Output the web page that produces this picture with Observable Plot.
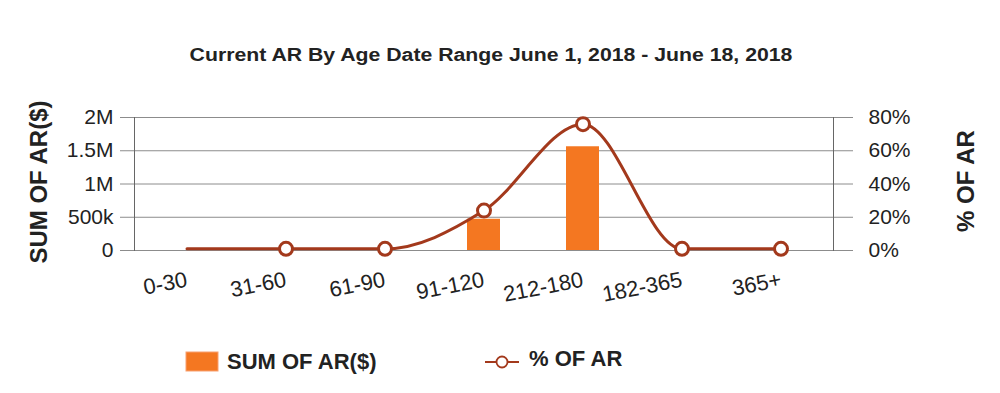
<!DOCTYPE html>
<html>
<head>
<meta charset="utf-8">
<script src="https://cdn.jsdelivr.net/npm/d3@7"></script>
<script src="https://cdn.jsdelivr.net/npm/@observablehq/plot@0.6"></script>
<style>
  body { margin: 0; background: #fff; font-family: "Liberation Sans", Arial, sans-serif; }
  #wrap { position: relative; width: 1000px; height: 393px; overflow: hidden; background: #fff; }
  #title { position: absolute; top: 46px; left: 0; width: 982px; text-align: center; font-weight: bold;
           font-size: 18px; line-height: 18px; color: #222; transform: scaleX(1.18); transform-origin: 491px 0; white-space: nowrap; }
  #chart { position: absolute; top: 90px; left: 0; }
  .ytitle { position: absolute; width: 240px; text-align: center; font-weight: bold; font-size: 24px;
            line-height: 24px; color: #222; transform: rotate(-90deg); white-space: nowrap; }
  .legtext { position: absolute; font-weight: bold; font-size: 22px; line-height: 22px; color: #222; white-space: nowrap; }
</style>
</head>
<body>
<div id="wrap">
  <div id="title"></div>
  <div id="chart"></div>
  <div class="ytitle" id="ltitle" style="left:-81px; top:170px;"></div>
  <div class="ytitle" id="rtitle" style="left:846px; top:169px;"></div>
  <div id="legend"></div>
</div>
<script>
const titleText = "Current AR By Age Date Range June 1, 2018 - June 18, 2018";
const categories = ["0-30", "31-60", "61-90", "91-120", "212-180", "182-365", "365+"];
const sumAR = [0, 0, 0, 470000, 1560000, 0, 0];
const pctAR = [1, 1, 1, 24, 76, 1, 1];
const markedCategories = ["31-60", "61-90", "91-120", "212-180", "182-365", "365+"];
const leftTickValues = [0, 500000, 1000000, 1500000, 2000000];
const leftTickLabels = ["0", "500k", "1M", "1.5M", "2M"];
const rightTickLabels = ["0%", "20%", "40%", "60%", "80%"];
const sumMax = 2000000;
const pctMax = 80;
const seriesNames = ["SUM OF AR($)", "% OF AR"];

const barColor = "#f47721";
const lineColor = "#a3391c";
const gridColor = "#8c8c8c";

const data = categories.map((c, i) => ({
  cat: c, sum: sumAR[i], pct: pctAR[i], pctY: pctAR[i] / pctMax * sumMax
}));

document.getElementById("title").textContent = titleText;
document.getElementById("ltitle").textContent = seriesNames[0];
document.getElementById("rtitle").textContent = seriesNames[1];

const chart = Plot.plot({
  width: 1000,
  height: 230,
  marginTop: 27,
  marginBottom: 70,
  marginLeft: 134,
  marginRight: 167,
  style: { fontFamily: '"Liberation Sans", Arial, sans-serif', color: "#222", background: "transparent", overflow: "visible" },
  x: { type: "band", domain: categories, padding: 0 },
  y: { domain: [0, sumMax] },
  marks: [
    Plot.gridY(leftTickValues, { stroke: gridColor, strokeOpacity: 1 }),
    Plot.axisY(leftTickValues, {
      anchor: "left", tickSize: 14, tickPadding: 7, stroke: gridColor, fontSize: 21, label: null,
      tickFormat: d => leftTickLabels[leftTickValues.indexOf(d)]
    }),
    Plot.axisY(leftTickValues, {
      anchor: "right", tickSize: 19, tickPadding: 16, stroke: gridColor, fontSize: 21, label: null,
      tickFormat: d => rightTickLabels[leftTickValues.indexOf(d)]
    }),
    Plot.axisX({
      tickSize: 0, tickPadding: 29, tickRotate: -11, fontSize: 22, label: null,
      textAnchor: "end", lineAnchor: "middle"
    }),
    Plot.frame({ anchor: "left", stroke: "#666" }),
    Plot.frame({ anchor: "right", stroke: "#666" }),
    Plot.barY(data, { x: "cat", y: "sum", fill: barColor, insetLeft: 33, insetRight: 33 }),
    Plot.line(data, { x: "cat", y: "pctY", curve: "monotone-x", stroke: lineColor, strokeWidth: 3 }),
    Plot.dot(data.filter(d => markedCategories.includes(d.cat)), {
      x: "cat", y: "pctY", r: 6.5, fill: "white", stroke: lineColor, strokeWidth: 3
    })
  ]
});
document.getElementById("chart").appendChild(chart);

// Legend
const legend = d3.select("#legend");
const lsvg = legend.append("svg")
  .style("position", "absolute").style("left", "0px").style("top", "0px")
  .attr("width", 1000).attr("height", 393).style("pointer-events", "none");
lsvg.append("rect").attr("x", 186).attr("y", 352).attr("width", 32).attr("height", 19)
  .attr("fill", barColor).attr("stroke", "#f8a070").attr("stroke-width", 1);
lsvg.append("line").attr("x1", 485).attr("x2", 519).attr("y1", 362).attr("y2", 362)
  .attr("stroke", lineColor).attr("stroke-width", 1.8);
lsvg.append("circle").attr("cx", 502).attr("cy", 362).attr("r", 5.5)
  .attr("fill", "white").attr("stroke", lineColor).attr("stroke-width", 1.8);
legend.append("div").attr("class", "legtext").style("left", "227px").style("top", "351px").text(seriesNames[0]);
legend.append("div").attr("class", "legtext").style("left", "529px").style("top", "348px").text(seriesNames[1]);
</script>
</body>
</html>
